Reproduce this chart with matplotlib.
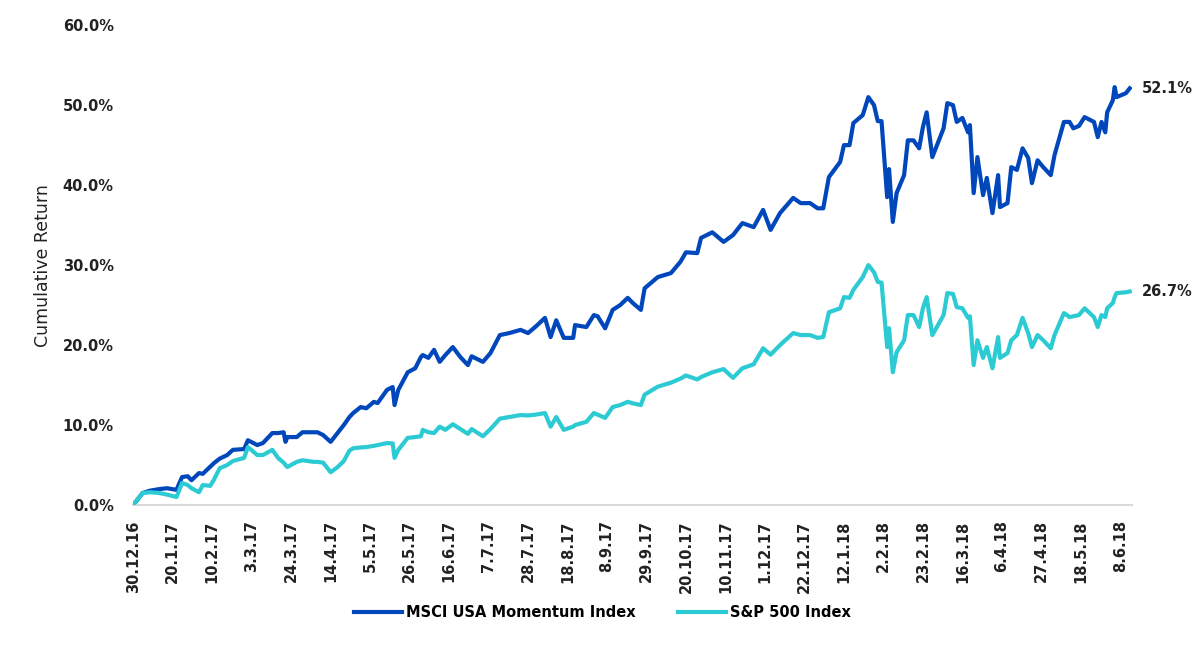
import matplotlib
matplotlib.use("Agg")
import matplotlib.pyplot as plt
import matplotlib.dates as mdates
from matplotlib.ticker import FuncFormatter
import pandas as pd

# 数据：累计收益（百分比）
dates = [
    "2016-12-30", "2017-01-04", "2017-01-08", "2017-01-13", "2017-01-17", "2017-01-22", "2017-01-25", "2017-01-28", "2017-01-30", "2017-02-03",
    "2017-02-05", "2017-02-09", "2017-02-11", "2017-02-14", "2017-02-18", "2017-02-21", "2017-02-27", "2017-03-01", "2017-03-06", "2017-03-09",
    "2017-03-14", "2017-03-17", "2017-03-20", "2017-03-21", "2017-03-22", "2017-03-27", "2017-03-30", "2017-04-05", "2017-04-07", "2017-04-10",
    "2017-04-14", "2017-04-18", "2017-04-21", "2017-04-24", "2017-04-26", "2017-04-30", "2017-05-03", "2017-05-07", "2017-05-09", "2017-05-14",
    "2017-05-17", "2017-05-18", "2017-05-20", "2017-05-25", "2017-05-29", "2017-06-01", "2017-06-02", "2017-06-05", "2017-06-08", "2017-06-11",
    "2017-06-14", "2017-06-18", "2017-06-22", "2017-06-26", "2017-06-28", "2017-07-04", "2017-07-08", "2017-07-13", "2017-07-18", "2017-07-24",
    "2017-07-28", "2017-08-01", "2017-08-06", "2017-08-09", "2017-08-12", "2017-08-16", "2017-08-21", "2017-08-22", "2017-08-28", "2017-09-01",
    "2017-09-03", "2017-09-07", "2017-09-11", "2017-09-15", "2017-09-19", "2017-09-22", "2017-09-26", "2017-09-28", "2017-10-05", "2017-10-12",
    "2017-10-17", "2017-10-20", "2017-10-26", "2017-10-28", "2017-11-03", "2017-11-09", "2017-11-14", "2017-11-19", "2017-11-25", "2017-11-30",
    "2017-12-04", "2017-12-09", "2017-12-16", "2017-12-20", "2017-12-25", "2017-12-29", "2018-01-01", "2018-01-04", "2018-01-10", "2018-01-12",
    "2018-01-15", "2018-01-17", "2018-01-22", "2018-01-25", "2018-01-28", "2018-01-30", "2018-02-01", "2018-02-04", "2018-02-05", "2018-02-07",
    "2018-02-09", "2018-02-13", "2018-02-15", "2018-02-18", "2018-02-21", "2018-02-23", "2018-02-25", "2018-02-28", "2018-03-06", "2018-03-08",
    "2018-03-11", "2018-03-13", "2018-03-16", "2018-03-19", "2018-03-20", "2018-03-22", "2018-03-24", "2018-03-27", "2018-03-29", "2018-04-01",
    "2018-04-04", "2018-04-05", "2018-04-09", "2018-04-11", "2018-04-14", "2018-04-17", "2018-04-20", "2018-04-22", "2018-04-25", "2018-04-28",
    "2018-05-02", "2018-05-04", "2018-05-09", "2018-05-12", "2018-05-14", "2018-05-17", "2018-05-20", "2018-05-25", "2018-05-27", "2018-05-29",
    "2018-05-31", "2018-06-01", "2018-06-04", "2018-06-05", "2018-06-06", "2018-06-11", "2018-06-13",
]

momentum = [
    0, 1.5, 1.8, 2.0, 2.1, 1.9, 3.5, 3.6, 3.1, 4.0,
    3.9, 4.8, 5.25, 5.8, 6.25, 6.9, 7.0, 8.1, 7.5, 7.75,
    9.0, 9.0, 9.1, 7.9, 8.5, 8.5, 9.1, 9.1, 9.1, 8.75,
    7.9, 9.1, 10.0, 11.0, 11.5, 12.25, 12.1, 12.9, 12.75, 14.4,
    14.75, 12.5, 14.4, 16.6, 17.1, 18.5, 18.75, 18.4, 19.4, 17.9,
    18.75, 19.75, 18.5, 17.5, 18.6, 17.9, 19.0, 21.25, 21.5, 21.9,
    21.5, 22.3, 23.4, 21.0, 23.1, 20.9, 20.9, 22.5, 22.25, 23.75,
    23.6, 22.1, 24.4, 25.0, 25.9, 25.2, 24.4, 27.1, 28.5, 29.0,
    30.4, 31.6, 31.5, 33.4, 34.1, 32.9, 33.75, 35.25, 34.75, 36.9,
    34.4, 36.5, 38.4, 37.75, 37.75, 37.1, 37.1, 41.0, 42.9, 45.0,
    45.0, 47.75, 48.75, 51.0, 50.0, 48.0, 48.0, 38.5, 42.0, 35.4,
    39.0, 41.25, 45.6, 45.6, 44.6, 47.25, 49.1, 43.5, 47.1, 50.25,
    50.0, 47.9, 48.4, 46.6, 47.5, 39.0, 43.5, 38.75, 40.9, 36.5,
    41.25, 37.25, 37.75, 42.25, 41.9, 44.6, 43.4, 40.25, 43.1, 42.25,
    41.25, 43.75, 47.9, 47.9, 47.1, 47.4, 48.5, 47.9, 46.0, 47.9,
    46.6, 49.1, 50.6, 52.25, 51.0, 51.5, 52.1,
]

sp500 = [
    0, 1.5, 1.6, 1.5, 1.3, 1.0, 2.75, 2.5, 2.1, 1.6,
    2.5, 2.4, 3.2, 4.6, 5.0, 5.5, 5.9, 7.25, 6.25, 6.25,
    6.9, 5.9, 5.3, 5.0, 4.75, 5.4, 5.6, 5.4, 5.4, 5.3,
    4.1, 4.8, 5.5, 6.8, 7.1, 7.2, 7.25, 7.4, 7.5, 7.75,
    7.7, 5.9, 6.9, 8.4, 8.5, 8.6, 9.4, 9.1, 9.0, 9.8,
    9.4, 10.1, 9.5, 8.9, 9.5, 8.6, 9.5, 10.8, 11.0, 11.25,
    11.2, 11.3, 11.5, 9.8, 11.0, 9.4, 9.8, 10.0, 10.4, 11.5,
    11.3, 10.9, 12.25, 12.5, 12.9, 12.7, 12.5, 13.8, 14.8, 15.3,
    15.8, 16.2, 15.7, 16.0, 16.6, 17.0, 15.9, 17.1, 17.6, 19.6,
    18.8, 20.0, 21.5, 21.25, 21.25, 20.9, 21.0, 24.1, 24.6, 26.0,
    25.9, 26.9, 28.5, 30.0, 29.1, 27.9, 27.8, 19.75, 22.1, 16.6,
    19.1, 20.6, 23.75, 23.75, 22.25, 24.6, 26.0, 21.25, 23.75, 26.5,
    26.4, 24.75, 24.6, 23.4, 23.6, 17.5, 20.6, 18.4, 19.75, 17.1,
    21.0, 18.4, 19.0, 20.6, 21.25, 23.4, 21.5, 19.75, 21.25, 20.6,
    19.6, 21.25, 24.0, 23.5, 23.6, 23.75, 24.6, 23.5, 22.25, 23.75,
    23.5, 24.6, 25.25, 26.0, 26.5, 26.6, 26.7,
]

series_names = ["MSCI USA Momentum Index", "S&P 500 Index"]
colors = ["#0047BB", "#2CCBD3"]

x = pd.to_datetime(dates)

fig = plt.figure(figsize=(12, 6.45), dpi=100)
ax = fig.add_axes([0.111, 0.217, 0.832, 0.744])

ax.plot(x, momentum, color=colors[0], linewidth=3, label=series_names[0], zorder=2)
ax.plot(x, sp500, color=colors[1], linewidth=3, label=series_names[1], zorder=3)

# 末端数值标签
for vals in [momentum, sp500]:
    ax.annotate(f"{vals[-1]:.1f}%", xy=(x[-1], vals[-1]), xytext=(9, 0),
                textcoords="offset points", va="center", ha="left",
                fontsize=10.5, fontweight="bold", color="#222222")

ax.set_ylim(0, 60)
ax.set_xlim(pd.Timestamp("2016-12-30"), pd.Timestamp("2018-06-14"))
ax.set_yticks(range(0, 61, 10))
ax.yaxis.set_major_formatter(FuncFormatter(lambda v, p: f"{v:.1f}%"))

ticks = pd.date_range("2016-12-30", "2018-06-08", freq="21D")
ax.set_xticks(ticks)
ax.xaxis.set_major_formatter(FuncFormatter(
    lambda v, p: (lambda d: f"{d.day}.{d.month}.{d.strftime('%y')}")(mdates.num2date(v))))

for lab in ax.get_xticklabels():
    lab.set_rotation(90)
    lab.set_fontweight("bold")
    lab.set_fontsize(10.5)
for lab in ax.get_yticklabels():
    lab.set_fontweight("bold")
    lab.set_fontsize(10.5)

ax.tick_params(axis="both", length=0, colors="#222222")
ax.tick_params(axis="y", pad=14)
ax.tick_params(axis="x", pad=11)

ax.spines["top"].set_color("none")
ax.spines["right"].set_color("none")
ax.spines["left"].set_color("none")
ax.spines["bottom"].set_color("#D9D9D9")
ax.spines["bottom"].set_linewidth(1.5)

ax.set_ylabel("Cumulative Return", fontsize=12.5, color="#222222", labelpad=8)

fig.legend(loc="center", bbox_to_anchor=(0.502, 0.051), ncol=2, frameon=False,
           handlelength=3.3, handletextpad=0.3, columnspacing=2.9,
           prop={"size": 10.5, "weight": "bold"})

fig.savefig("out.png", dpi=100)
